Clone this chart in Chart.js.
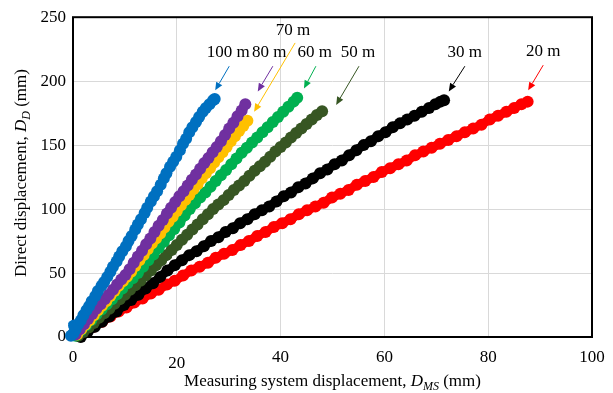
<!DOCTYPE html>
<html>
<head>
<meta charset="utf-8">
<script src="https://cdn.jsdelivr.net/npm/chart.js@4.4.1/dist/chart.umd.min.js"></script>
<style>
  html, body { margin: 0; padding: 0; background: #fff; }
</style>
</head>
<body>
<canvas id="chart" width="613" height="393"></canvas>
<script>
// ---- data ----
const xTicks = [0, 20, 40, 60, 80, 100];
const yTicks = [0, 50, 100, 150, 200, 250];

const names = ["100 m", "80 m", "70 m", "60 m", "50 m", "30 m", "20 m"];
const colors = ["#0070C0", "#7030A0", "#FFC000", "#00B050", "#375623", "#000000", "#FF0000"];

const m100x = [-0.4, 0.1, 0.5, 0.2, 1.0, 1.5, 2.0, 2.6, 3.1, 3.6, 4.3, 4.8, 5.5, 6.0, 6.6, 7.2, 7.7, 8.4, 8.9, 9.5, 10.2, 10.7, 11.3, 12.0, 12.5, 13.1, 13.8, 14.3, 15.0, 15.6, 16.2, 16.9, 17.5, 18.0, 18.7, 19.3, 19.9, 20.6, 21.2, 21.8, 22.4, 23.0, 23.7, 24.3, 25.0, 25.6, 26.3, 27.0, 27.3];
const m100y = [1, 3, 6, 9, 10, 13, 17, 21, 24, 28, 32, 36, 40, 43, 47, 51, 55, 59, 63, 67, 71, 75, 79, 84, 88, 92, 97, 101, 106, 110, 114, 119, 124, 128, 133, 137, 141, 146, 151, 155, 160, 164, 168, 172, 176, 179, 182, 185, 186];

const m80x = [0.5, 1.3, 2.1, 2.9, 3.7, 4.5, 5.3, 6.1, 6.9, 7.7, 8.5, 9.3, 10.1, 10.9, 11.7, 12.5, 13.3, 14.1, 14.9, 15.7, 16.5, 17.3, 18.1, 18.9, 19.7, 20.5, 21.3, 22.1, 22.9, 23.7, 24.5, 25.3, 26.1, 26.9, 27.7, 28.5, 29.3, 30.1, 30.9, 31.7, 32.5, 33.2];
const m80y = [2, 6, 10, 14, 18, 22, 25.5, 29.5, 33, 37, 41, 45, 48.5, 53, 58, 63, 67.5, 72.5, 77, 82, 87, 91.5, 96.5, 101, 105.5, 110, 114, 118.5, 123, 127, 131.5, 136, 140, 144.5, 148.5, 153, 158, 163, 167.5, 172.5, 177, 182];

const m70x = [0.8, 1.6, 2.4, 3.2, 4.0, 4.8, 5.6, 6.4, 7.2, 8.0, 8.8, 9.6, 10.4, 11.2, 12.0, 12.8, 13.6, 14.4, 15.2, 16.0, 16.8, 17.6, 18.4, 19.2, 20.0, 20.8, 21.6, 22.4, 23.2, 24.0, 24.8, 25.6, 26.4, 27.2, 28.0, 28.8, 29.6, 30.4, 31.2, 32.0, 32.8, 33.6];
const m70y = [2, 6, 9.5, 13, 17, 21, 24.5, 28, 32, 36, 40, 43.5, 47, 51, 55.5, 60, 64, 68.5, 73, 77, 81, 85.5, 90, 94, 98.5, 103, 107, 111, 115.5, 119.5, 124, 128, 132, 136.5, 140.5, 144.5, 148.5, 153, 157, 161, 165, 169];

const m60x = [0.5, 1.5, 2.5, 3.5, 4.5, 5.5, 6.5, 7.5, 8.5, 9.5, 10.5, 11.5, 12.5, 13.5, 14.5, 15.5, 16.5, 17.5, 18.5, 19.5, 20.5, 21.5, 22.5, 23.5, 24.5, 25.5, 26.5, 27.5, 28.5, 29.5, 30.5, 31.5, 32.5, 33.5, 34.5, 35.5, 36.5, 37.5, 38.5, 39.5, 40.5, 41.5, 42.5, 43.2];
const m60y = [1, 5, 9, 13, 17.5, 21.5, 25.5, 29.5, 33.5, 38, 42, 46, 50, 55, 60, 64.5, 69.5, 74.5, 79.5, 84.5, 89.5, 95, 100, 104.5, 109, 113, 117.5, 122, 126.5, 130.5, 135, 139.5, 144, 148, 152, 156, 160, 164, 168, 172, 176, 180, 184, 187];

const m50x = [1.0, 2.0, 3.0, 4.0, 5.0, 6.0, 7.0, 8.0, 9.0, 10.0, 11.0, 12.0, 13.0, 14.0, 15.0, 16.0, 17.0, 18.0, 19.0, 20.0, 21.0, 22.0, 23.0, 24.0, 25.0, 26.0, 27.0, 28.0, 29.0, 30.0, 31.0, 32.0, 33.0, 34.0, 35.0, 36.0, 37.0, 38.0, 39.0, 40.0, 41.0, 42.0, 43.0, 44.0, 45.0, 46.0, 47.0, 48.0];
const m50y = [1, 4, 7.5, 11, 15, 18.5, 22, 26, 29.5, 33, 37, 40.5, 44, 48, 52, 56, 60, 64, 68, 72, 76, 80, 84, 88, 92, 96, 100, 103.5, 107, 111, 115, 118.5, 122, 126, 130, 133.5, 137, 141, 145, 148.5, 152, 156, 159.5, 163, 166.5, 170, 173.5, 176.5];

const m30x = [1.5, 2.8, 4.2, 5.6, 7.0, 8.4, 9.8, 11.2, 12.6, 14.0, 15.4, 16.8, 18.2, 19.6, 21.0, 22.4, 23.8, 25.2, 26.6, 28.0, 29.4, 30.8, 32.2, 33.6, 35.0, 36.4, 37.8, 39.2, 40.6, 42.0, 43.4, 44.8, 46.2, 47.6, 49.0, 50.4, 51.8, 53.2, 54.6, 56.0, 57.4, 58.8, 60.2, 61.6, 63.0, 64.4, 65.8, 67.2, 68.6, 69.8, 70.8, 71.5];
const m30y = [0, 4, 8, 12, 16, 20, 25, 29, 33, 38, 42, 47, 52, 56, 60, 64, 67, 71, 75, 78, 82, 85, 89, 92, 96, 99, 102, 106, 110, 113, 117, 120, 124, 128, 131, 135, 138, 142, 146, 150, 153, 157, 160, 164, 167, 170, 173, 176, 179, 182, 184, 185];

const m20x = [1.0, 2.5, 4.0, 5.6, 7.2, 8.8, 10.3, 11.8, 13.4, 15.0, 16.5, 18.1, 19.6, 21.2, 22.8, 24.4, 26.0, 27.5, 29.1, 30.7, 32.3, 33.9, 35.5, 37.1, 38.7, 40.3, 41.9, 43.5, 45.1, 46.7, 48.3, 49.9, 51.5, 53.1, 54.7, 56.3, 57.9, 59.5, 61.1, 62.7, 64.3, 65.9, 67.5, 69.1, 70.7, 72.3, 73.9, 75.5, 77.1, 78.7, 80.3, 81.9, 83.5, 85.0, 86.4, 87.6];
const m20y = [1, 4, 8, 12, 16, 20, 23, 27, 30, 34, 37, 41, 44, 48, 52, 55, 58, 62, 65, 68, 72, 75, 79, 82, 86, 89, 92, 96, 99, 102, 105, 109, 112, 115, 119, 122, 125, 129, 132, 135, 138, 142, 145, 148, 151, 154, 157, 160, 163, 166, 170, 173, 176, 179, 182, 184];

const allX = [m100x, m80x, m70x, m60x, m50x, m30x, m20x];
const allY = [m100y, m80y, m70y, m60y, m50y, m30y, m20y];

// label + arrow placement (data units): text pos, arrow start, arrow tip
const noteText = [[29.9, 222.3], [37.8, 222.3], [42.4, 239.8], [46.6, 222.3], [54.9, 222.3], [75.5, 222.3], [90.6, 223.1]];
const noteFrom = [[30.1, 211.7], [38.5, 211.7], [42.8, 229.9], [46.8, 211.7], [55.1, 211.7], [75.5, 211.7], [90.6, 212.5]];
const noteTo = [[27.4, 192.8], [35.6, 192.0], [34.9, 176.1], [44.5, 194.3], [50.7, 181.4], [72.4, 192.0], [87.7, 192.8]];

const SERIF = '"Liberation Serif", "Times New Roman", serif';

const datasets = names.map((n, i) => ({
  label: n,
  data: allX[i].map((x, k) => ({ x: x, y: allY[i][k] })),
  borderColor: colors[i],
  backgroundColor: colors[i],
  borderWidth: 9,
  pointRadius: 6,
  pointBorderWidth: 0,
  pointBackgroundColor: colors[i],
  showLine: true,
  tension: 0,
  clip: false,
  order: i + 1
}));

// text with italic + subscript pieces
function drawRich(ctx, parts, cx, baseY, size) {
  const fonts = parts.map(p => p[1] === "n" ? size + "px " + SERIF
    : p[1] === "i" ? "italic " + size + "px " + SERIF
    : "italic " + Math.round(size * 0.68) + "px " + SERIF);
  const widths = parts.map((p, i) => { ctx.font = fonts[i]; return ctx.measureText(p[0]).width; });
  let x = cx - widths.reduce((a, b) => a + b, 0) / 2;
  ctx.textAlign = "left";
  ctx.textBaseline = "alphabetic";
  parts.forEach((p, i) => {
    ctx.font = fonts[i];
    ctx.fillText(p[0], x, baseY + (p[1] === "s" ? size * 0.25 : 0));
    x += widths[i];
  });
}

const extras = {
  id: "extras",
  beforeDatasetsDraw(chart) {
    const { ctx, chartArea: a } = chart;
    ctx.save();
    ctx.strokeStyle = "#000";
    ctx.lineWidth = 2;
    ctx.strokeRect(a.left, a.top, a.right - a.left, a.bottom - a.top);
    ctx.restore();
  },
  afterDraw(chart) {
    const { ctx, chartArea: a } = chart;
    const xs = chart.scales.x, ys = chart.scales.y;
    ctx.save();
    ctx.fillStyle = "#000";

    // x tick labels (the "20" sits a little lower in the original)
    ctx.font = "17px " + SERIF;
    ctx.textAlign = "center";
    ctx.textBaseline = "middle";
    xTicks.forEach(v => {
      ctx.fillText(String(v), xs.getPixelForValue(v), a.bottom + 21 + (v === 20 ? 6 : 0));
    });

    // axis titles
    drawRich(ctx, [["Measuring system displacement, ", "n"], ["D", "i"], ["MS", "s"], [" (mm)", "n"]],
      (a.left + a.right) / 2, 386, 17);
    ctx.save();
    ctx.translate(26, 173);
    ctx.rotate(-Math.PI / 2);
    drawRich(ctx, [["Direct displacement, ", "n"], ["D", "i"], ["D", "s"], [" (mm)", "n"]], 0, 0, 17);
    ctx.restore();

    // series labels with arrows
    names.forEach((n, i) => {
      const tx = xs.getPixelForValue(noteText[i][0]), ty = ys.getPixelForValue(noteText[i][1]);
      ctx.fillStyle = "#000";
      ctx.font = "17px " + SERIF;
      ctx.textAlign = "center";
      ctx.textBaseline = "middle";
      ctx.fillText(n, tx, ty);

      const x1 = xs.getPixelForValue(noteFrom[i][0]), y1 = ys.getPixelForValue(noteFrom[i][1]);
      const x2 = xs.getPixelForValue(noteTo[i][0]), y2 = ys.getPixelForValue(noteTo[i][1]);
      const ang = Math.atan2(y2 - y1, x2 - x1);
      const len = 8, half = 3.5;
      ctx.strokeStyle = colors[i];
      ctx.fillStyle = colors[i];
      ctx.lineWidth = 1;
      ctx.beginPath();
      ctx.moveTo(x1, y1);
      ctx.lineTo(x2 - Math.cos(ang) * len, y2 - Math.sin(ang) * len);
      ctx.stroke();
      ctx.beginPath();
      ctx.moveTo(x2, y2);
      ctx.lineTo(x2 - Math.cos(ang) * len - Math.sin(ang) * half, y2 - Math.sin(ang) * len + Math.cos(ang) * half);
      ctx.lineTo(x2 - Math.cos(ang) * len + Math.sin(ang) * half, y2 - Math.sin(ang) * len - Math.cos(ang) * half);
      ctx.closePath();
      ctx.fill();
    });
    ctx.restore();
  }
};

new Chart(document.getElementById("chart"), {
  type: "scatter",
  data: { datasets: datasets },
  options: {
    responsive: false,
    animation: false,
    devicePixelRatio: 1,
    layout: { padding: { top: 6, right: 21, left: 0, bottom: 0 } },
    plugins: { legend: { display: false }, tooltip: { enabled: false } },
    scales: {
      x: {
        type: "linear", min: 0, max: 100,
        afterBuildTicks: s => { s.ticks = xTicks.map(v => ({ value: v })); },
        afterFit: s => { s.height = 56; },
        ticks: { display: false },
        grid: { color: "#d9d9d9", lineWidth: 1, drawTicks: false },
        border: { display: false }
      },
      y: {
        type: "linear", min: 0, max: 250,
        afterBuildTicks: s => { s.ticks = yTicks.map(v => ({ value: v })); },
        afterFit: s => { s.width = 73; },
        ticks: { color: "#000", padding: 7, font: { family: SERIF, size: 17 } },
        grid: { color: "#d9d9d9", lineWidth: 1, drawTicks: false },
        border: { display: false }
      }
    }
  },
  plugins: [extras]
});
</script>
</body>
</html>
